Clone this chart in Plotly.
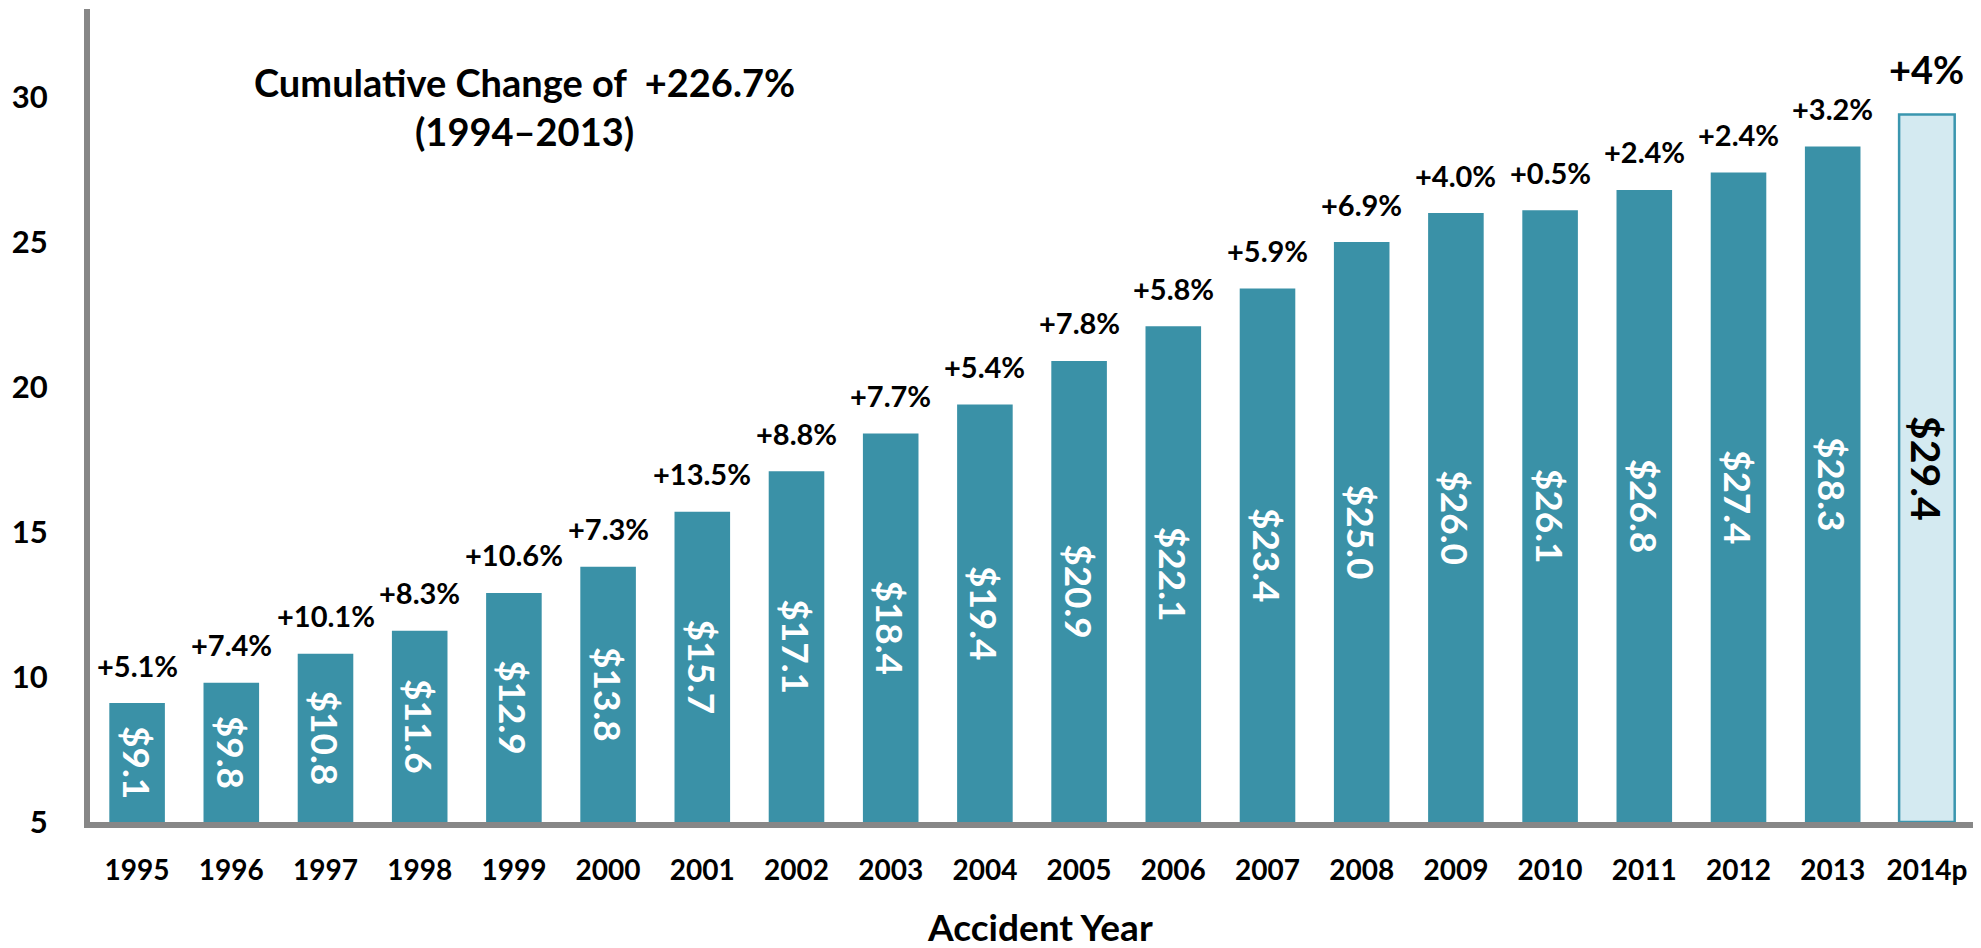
import plotly.graph_objects as go

years = ["1995", "1996", "1997", "1998", "1999", "2000", "2001", "2002", "2003", "2004",
         "2005", "2006", "2007", "2008", "2009", "2010", "2011", "2012", "2013", "2014p"]
values = [9.1, 9.8, 10.8, 11.6, 12.9, 13.8, 15.7, 17.1, 18.4, 19.4,
          20.9, 22.1, 23.4, 25.0, 26.0, 26.1, 26.8, 27.4, 28.3, 29.4]
pct_labels = ["+5.1%", "+7.4%", "+10.1%", "+8.3%", "+10.6%", "+7.3%", "+13.5%", "+8.8%", "+7.7%", "+5.4%",
              "+7.8%", "+5.8%", "+5.9%", "+6.9%", "+4.0%", "+0.5%", "+2.4%", "+2.4%", "+3.2%", "+4%"]
y_ticks = [5, 10, 15, 20, 25, 30]
y_min, y_max = 5, 33.04

TEAL = "#3a91a7"
LIGHT = "#d4eaf1"
EDGE = "#3a96af"
FONT = "Lato"

n = len(years)
is_proj = [y.endswith("p") for y in years]

fig = go.Figure()
fig.add_trace(go.Bar(
    x=years,
    y=[v - y_min for v in values],
    base=y_min,
    marker=dict(
        color=[LIGHT if p else TEAL for p in is_proj],
        line=dict(color=[EDGE if p else TEAL for p in is_proj],
                  width=[2.5 if p else 0 for p in is_proj]),
    ),
    text=[f"${v:.1f}" for v in values],
    textposition="inside",
    insidetextanchor="middle",
    textangle=90,
    textfont=dict(
        family=FONT,
        color=["black" if p else "white" for p in is_proj],
        size=[41 if p else 37 for p in is_proj],
        weight="bold",
    ),
    constraintext="none",
    hoverinfo="skip",
))

annotations = []
for i, (v, lab, p) in enumerate(zip(values, pct_labels, is_proj)):
    annotations.append(dict(
        x=i, y=v, xref="x", yref="y", text=lab, showarrow=False,
        yanchor="middle", xanchor="center", yshift=46 if p else 38,
        font=dict(family=FONT, size=38 if p else 29, color="black", weight="bold"),
    ))

annotations.append(dict(
    x=0.2304, y=0.8805, xref="paper", yref="paper",
    text="Cumulative Change of\u00a0\u00a0+226.7%<br>(1994\u20132013)",
    showarrow=False, xanchor="center", yanchor="middle", align="center",
    font=dict(family=FONT, size=38, color="black", weight="bold"),
))
annotations.append(dict(
    x=0.504, y=-0.128, xref="paper", yref="paper",
    text="Accident Year", showarrow=False, xanchor="center", yanchor="middle",
    font=dict(family=FONT, size=37, color="black", weight="bold"),
))

fig.update_layout(
    width=1973, height=940,
    margin=dict(l=82, r=7, t=1, b=126),
    paper_bgcolor="white", plot_bgcolor="white",
    bargap=0.41,
    showlegend=False,
    annotations=annotations,
    xaxis=dict(
        type="category",
        range=[-0.5, n - 0.5],
        showline=True, linecolor="#878787", linewidth=6,
        showgrid=False, zeroline=False,
        ticks="outside", ticklen=18, tickcolor="rgba(0,0,0,0)",
        tickfont=dict(family=FONT, size=28, color="black", weight="bold"),
    ),
    yaxis=dict(
        range=[y_min, y_max],
        tickvals=y_ticks,
        showline=True, linecolor="#878787", linewidth=6,
        showgrid=False, zeroline=False,
        ticks="outside", ticklen=30, tickcolor="rgba(0,0,0,0)",
        tickfont=dict(family=FONT, size=31, color="black", weight="bold"),
    ),
)

fig.write_html("out.html")
